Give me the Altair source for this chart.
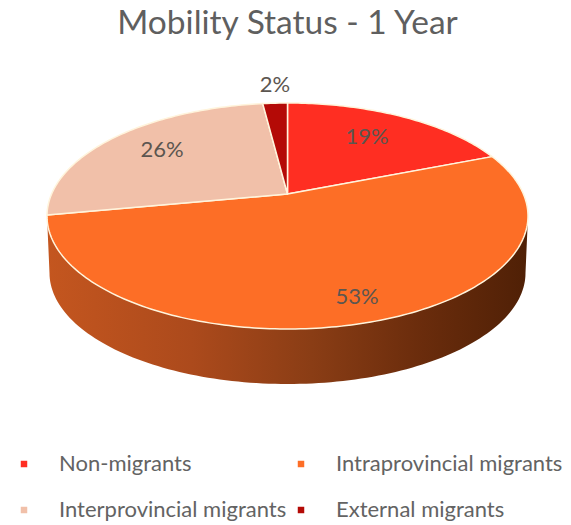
import numpy as np
import altair as alt

# Slice data
categories = ["Non-migrants", "Intraprovincial migrants", "Interprovincial migrants", "External migrants"]
shares = [19, 53, 26, 2]
share_labels = ["19%", "53%", "26%", "2%"]
colors = ["#ff2e22", "#fd6e26", "#f1c0a9", "#b40a06"]

# Vega fills legend columns top to bottom, so this order reads row by row as above
legend_order = [0, 2, 1, 3]

# Layout of the tilted disc, in pixels (top padding is subtracted)
PAD_TOP = 56
CX, CY = 287.5, 216 - PAD_TOP
RX, RY = 240.5, 113
TILT = -0.195          # perspective shift of the pie centre along the minor axis
DEPTH_RX, DEPTH_RY, DEPTH_DY = 238, 111, 57
LABEL_XY = [(367, 137), (357, 297), (162, 150), (275, 85)]


def disc_point(angle, r=1.0):
    """Clockwise angle from twelve o'clock, perspective-mapped onto the ellipse."""
    u, v = r * np.sin(angle), -r * np.cos(angle)
    d = 1 + TILT * v
    return [CX + RX * u * np.sqrt(1 - TILT ** 2) / d, CY + RY * (v + TILT) / d]


def wedge(start, end):
    steps = max(int(np.degrees(end - start)), 2)
    arc = [disc_point(a) for a in np.linspace(start, end, steps)]
    apex = disc_point(0, 0)
    return [[apex] + arc + [apex]]


edges = np.cumsum([0] + shares) / sum(shares) * 2 * np.pi
wedges = [
    {
        "type": "Feature",
        "geometry": {"type": "Polygon", "coordinates": wedge(edges[i], edges[i + 1])},
        "properties": {"name": categories[i]},
    }
    for i in range(len(categories))
]

# Rim of the disc: lower half of the top ellipse joined to the lower half of the base
t = np.radians(np.linspace(0, 180, 121))
rim_top = [[CX + RX * np.cos(a), CY + RY * np.sin(a)] for a in t]
rim_base = [[CX + DEPTH_RX * np.cos(a), CY + DEPTH_DY + DEPTH_RY * np.sin(a)] for a in t[::-1]]
rim = [{"type": "Feature", "geometry": {"type": "Polygon", "coordinates": [rim_top + rim_base + [rim_top[0]]]}}]

PROJECTION = dict(type="identity", scale=1, translate=[0, 0])

rim_layer = (
    alt.Chart(alt.Data(values=rim))
    .mark_geoshape(
        strokeWidth=0,
        fill=alt.Gradient(
            gradient="linear", x1=0, x2=1, y1=0, y2=0,
            stops=[
                alt.GradientStop(color="#c4561f", offset=0),
                alt.GradientStop(color="#ac4a1c", offset=0.3),
                alt.GradientStop(color="#8a3d15", offset=0.55),
                alt.GradientStop(color="#6a2c0c", offset=0.78),
                alt.GradientStop(color="#4f2006", offset=1),
            ],
        ),
    )
    .project(**PROJECTION)
)

wedge_layer = (
    alt.Chart(alt.Data(values=wedges))
    .mark_geoshape(stroke="#fff4dc", strokeWidth=1.5, strokeJoin="round")
    .encode(
        color=alt.Color(
            "properties.name:N",
            scale=alt.Scale(
                domain=[categories[i] for i in legend_order],
                range=[colors[i] for i in legend_order],
            ),
            legend=alt.Legend(
                title=None,
                orient="none",
                legendX=11,
                legendY=397,
                columns=2,
                symbolType="square",
                symbolSize=42,
                symbolStrokeWidth=0,
                symbolOffset=2,
                labelFont="Lato",
                labelFontSize=22,
                labelColor="#636363",
                labelOffset=24,
                labelLimit=300,
                rowPadding=24,
                columnPadding=1,
            ),
        )
    )
    .project(**PROJECTION)
)

label_rows = [
    {"label": text, "lon": x, "lat": y - PAD_TOP}
    for text, (x, y) in zip(share_labels, LABEL_XY)
]
label_layer = (
    alt.Chart(alt.Data(values=label_rows))
    .mark_text(font="Lato", fontSize=22, color="#5c5650", align="center", baseline="middle")
    .encode(longitude="lon:Q", latitude="lat:Q", text="label:N")
    .project(**PROJECTION)
)

chart = (
    alt.layer(rim_layer, wedge_layer, label_layer)
    .properties(
        width=571,
        height=525 - PAD_TOP,
        padding={"left": 0, "top": PAD_TOP, "right": 0, "bottom": 0},
        autosize=alt.AutoSizeParams(type="none"),
        title=alt.TitleParams(
            "Mobility Status - 1 Year",
            font="Lato",
            fontSize=33.5,
            fontWeight="normal",
            color="#5f5f5f",
            anchor="middle",
            offset=15,
            dx=2,
        ),
    )
    .configure_view(stroke=None)
)

chart.save("out.html", embed_options={"renderer": "svg", "actions": False})
